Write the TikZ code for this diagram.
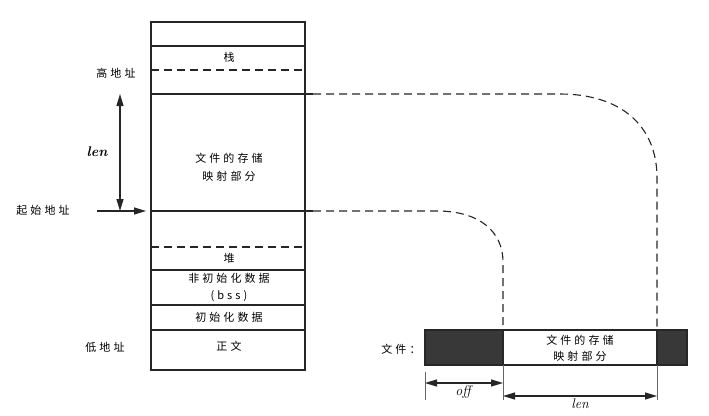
\documentclass[tikz,border=0pt]{standalone}
\usepackage{fontspec}
\usepackage{tikz}
\usetikzlibrary{arrows.meta,calc}
\newfontfamily\cjk[LetterSpace=28]{Noto Sans CJK SC}
\tikzset{
  seg/.style={line width=1.1pt, black!85},
  dsh/.style={seg, dash pattern=on 8pt off 5pt},
  lab/.style={font=\cjk\fontsize{11}{13}\selectfont, inner sep=0pt},
  ital/.style={font=\fontsize{14}{16}\selectfont\itshape, inner sep=0pt},
  tip/.style={-{Triangle[length=12pt,width=7pt]}},
  dtip/.style={{Triangle[length=12pt,width=7pt]}-{Triangle[length=12pt,width=7pt]}},
  ext/.style={line width=0.7pt, black!60},
}
\begin{document}
\begin{tikzpicture}[x=1pt,y=-1pt]
\useasboundingbox (0,0) rectangle (709,415);
% memory layout
\draw [seg](151,22) rectangle (305,370);
\draw [seg](151,46)--(305,46);
\draw [dsh](151,70)--(305,70);
\draw [seg](151,94)--(313,94);
\draw [seg](151,211)--(313,211);
\draw [dsh](151,247)--(305,247);
\draw [seg](151,270)--(305,270);
\draw [seg](151,305)--(305,305);
\draw [seg](151,330)--(305,330);
\node [lab] (stack) at (229,57) {栈};
\node [lab, align=center] (mapmem) at (229,167) {文件的存储\\[5pt]映射部分};
\node [lab] (heap) at (229,258) {堆};
\node [lab, align=center] (bss) at (229,287) {非初始化数据\\[4pt](bss)};
\node [lab] (data) at (229,317) {初始化数据};
\node [lab] (text) at (229,346) {正文};
\node [lab] (high) at (116,73) {高地址};
\node [lab] (low) at (105,347) {低地址};
\node [lab] (start) at (43,210) {起始地址};
% len and start arrows
\coordinate (lentop) at (120,94);
\coordinate (lenbot) at (120,211);
\draw [seg,dtip] (lentop) -- (lenbot);
\node [ital] (lenl) at (97,152) {\bfseries len};
\coordinate (sa) at (97,211);
\coordinate (sb) at (146,211);
\draw [seg,tip] (sa) -- (sb);
% file
\draw [seg, fill=black!78] (425,330) rectangle (503,365);
\draw [seg] (503,330) rectangle (657,365);
\draw [seg, fill=black!78] (657,330) rectangle (687,365);
\node [lab, align=center] (mapfile) at (580,348) {文件的存储\\[3pt]映射部分};
\node [lab] (file) at (401,349) {文件：};
% mapping curves
\draw [dsh] (313,94) -- (560,94) .. controls (620,94) and (657,125) .. (657,178) -- (657,330);
\draw [dsh] (313,211) -- (437,211) .. controls (480,211) and (503,232) .. (503,262) -- (503,330);
% off and len
\draw [ext] (425,372) -- (425,400);
\draw [ext] (503,365) -- (503,400);
\draw [ext] (657,365) -- (657,400);
\draw [seg,dtip] (425,383) -- (503,383);
\node [ital] (offl) at (463,392) {off};
\draw [seg,dtip] (503,396) -- (657,396);
\node [ital] (lenf) at (580,404) {len};
\end{tikzpicture}
\end{document}
